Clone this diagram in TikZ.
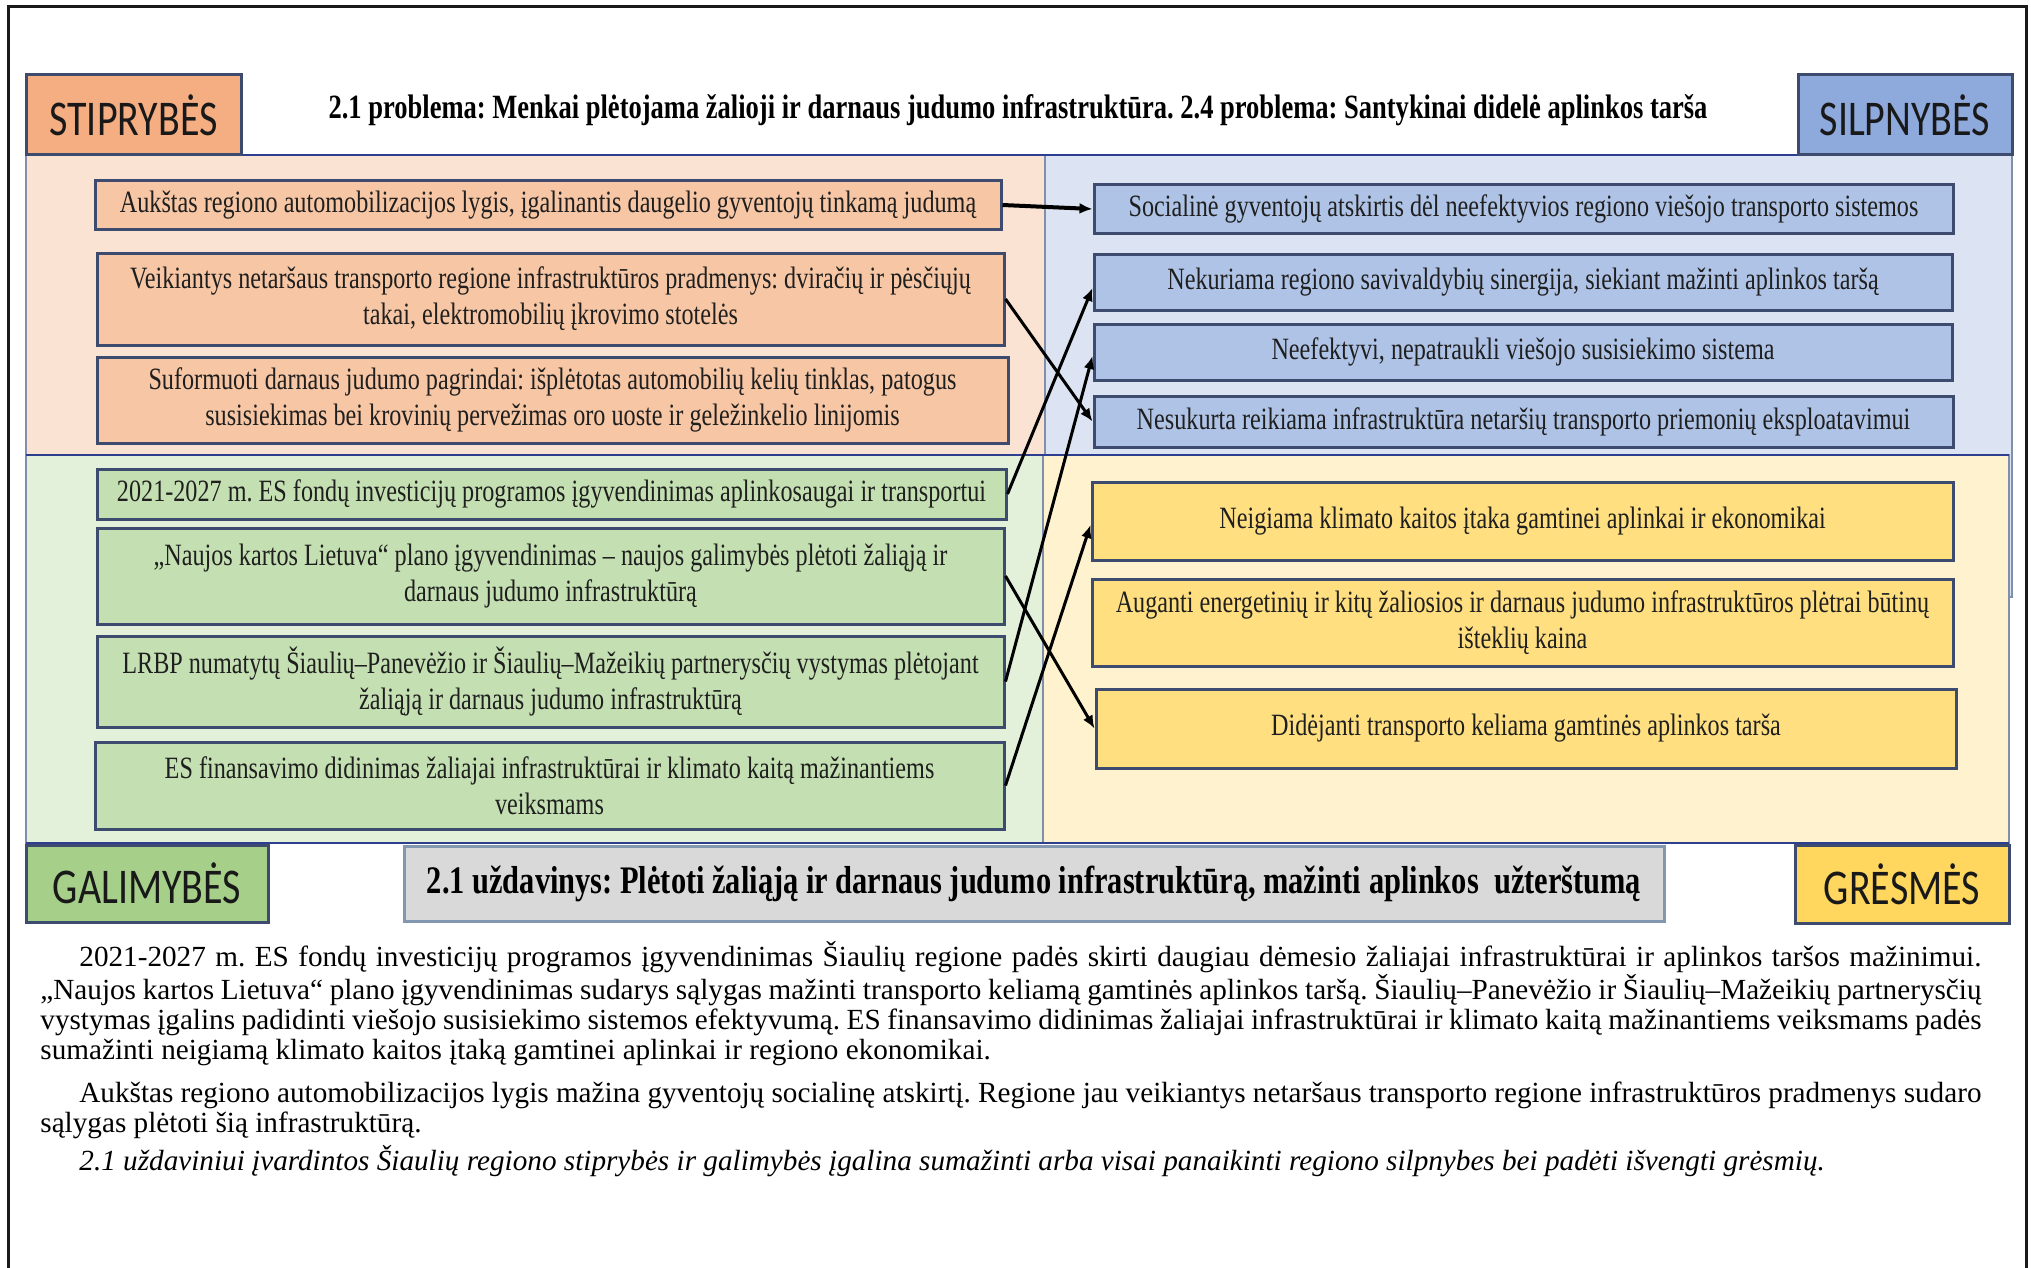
\documentclass[tikz,border=0pt]{standalone}
\usepackage{fontspec}
\setmainfont{Liberation Serif}
\newfontfamily\bodyfont{Liberation Serif}
\newfontfamily\boxfont[FakeStretch=0.78]{Liberation Serif}
\newfontfamily\titlefont[FakeStretch=0.78]{Liberation Serif}
\newfontfamily\hdrfont[FakeStretch=0.8]{Carlito}
\usetikzlibrary{arrows.meta,fit}
\definecolor{frameline}{HTML}{1A1A1A}
\definecolor{sepline}{HTML}{2E3F8F}
\definecolor{paneedge}{HTML}{8090AC}
\definecolor{boxedge}{HTML}{3D4B6E}
\definecolor{spane}{HTML}{FBE3D4}
\definecolor{sbox}{HTML}{F7C6A4}
\definecolor{shdr}{HTML}{F4AE82}
\definecolor{wpane}{HTML}{DCE4F3}
\definecolor{wbox}{HTML}{AFC3E6}
\definecolor{whdr}{HTML}{8EA9DB}
\definecolor{opane}{HTML}{E3F0DA}
\definecolor{obox}{HTML}{C4E0B2}
\definecolor{ohdr}{HTML}{A6CF8A}
\definecolor{tpane}{HTML}{FFF2CF}
\definecolor{tbox}{HTML}{FFDF80}
\definecolor{thdr}{HTML}{FFD75E}
\definecolor{taskfill}{HTML}{D9D9D9}
\definecolor{taskedge}{HTML}{8497B0}
\tikzset{
  cellbox/.style={draw=boxedge, line width=1.5pt, inner sep=0pt},
  celltext/.style={inner sep=0pt, align=center,
    font=\boxfont\fontsize{15.5}{18}\selectfont, text=black!88},
  hdrtext/.style={inner sep=0pt, font=\hdrfont\fontsize{25}{30}\selectfont, text=black!90},
  pane/.style={draw=paneedge, line width=1pt},
  sepline/.style={draw=sepline, line width=1.2pt},
  conn/.style={line width=1.5pt, -{Latex[length=6.5pt,width=5.5pt]}},
}
% #1 name, #2 fill, #3 corner a, #4 corner b, #5 text
\newcommand\swotcell[5]{%
  \node[cellbox, fill=#2, fit={#3 #4}] (#1) {};
  \node[celltext] (#1-t) at (#1.center) {#5};}
\newcommand\swothdr[5]{%
  \node[cellbox, fill=#2, fit={#3 #4}] (#1) {};
  \node[hdrtext] (#1-t) at (#1.center) {#5};}
% one justified line of the body text
\newcommand\jline[1]{\hbox to 970.5pt{#1}}
\begin{document}
\frenchspacing
\begin{tikzpicture}[x=0.5pt,y=-0.5pt]
\useasboundingbox (0,0) rectangle (2031,1268);
\fill[white] (0,0) rectangle (2031,1268);
% outer frame (open at bottom)
\draw[frameline, line width=1.5pt] (8,1268) -- (8,7) -- (2026,7) -- (2026,1268);

% panes
\filldraw[pane, fill=wpane] (1045,155) rectangle (2012,597);
\filldraw[pane, fill=spane] (26,155) rectangle (1045,455);
\filldraw[pane, fill=opane] (26,455) rectangle (1043,843);
\filldraw[pane, fill=tpane] (1043,455) rectangle (2009,843);
\draw[sepline] (26,155) -- (2012,155);
\draw[sepline] (26,455) -- (2009,455);
\draw[sepline] (26,843) -- (2009,843);

% headers
\swothdr{hs}{shdr}{(26,75)}{(241,155)}{STIPRYBĖS}
\swothdr{hw}{whdr}{(1798,75)}{(2012,155)}{SILPNYBĖS}
\swothdr{ho}{ohdr}{(26,845)}{(268,922)}{GALIMYBĖS}
\swothdr{ht}{thdr}{(1795,845)}{(2009,923)}{GRĖSMĖS}

\node[font=\titlefont\bfseries\fontsize{17}{20}\selectfont, inner sep=0pt] (title) at (1018,110)
  {2.1 problema: Menkai plėtojama žalioji ir darnaus judumo infrastruktūra. 2.4 problema: Santykinai didelė aplinkos tarša};
\node[draw=taskedge, line width=1.5pt, fill=taskfill, inner sep=0pt, fit={(404,846) (1664,921)}] (task) {};
\node[font=\titlefont\bfseries\fontsize{19.5}{23}\selectfont, inner sep=0pt] (task-t) at (task.center)
  {2.1 uždavinys: Plėtoti žaliąją ir darnaus judumo infrastruktūrą, mažinti aplinkos\ \ užterštumą};

% strengths
\swotcell{s1}{sbox}{(95,181)}{(1001,229)}
  {Aukštas regiono automobilizacijos lygis, įgalinantis daugelio gyventojų tinkamą judumą}
\swotcell{s2}{sbox}{(97,253)}{(1004,345)}
  {Veikiantys netaršaus transporto regione infrastruktūros pradmenys: dviračių ir pėsčiųjų\\takai, elektromobilių įkrovimo stotelės}
\swotcell{s3}{sbox}{(97,357)}{(1008,443)}
  {Suformuoti darnaus judumo pagrindai: išplėtotas automobilių kelių tinklas, patogus\\susisiekimas bei krovinių pervežimas oro uoste ir geležinkelio linijomis}

% weaknesses
\swotcell{w1}{wbox}{(1094,185)}{(1953,233)}
  {Socialinė gyventojų atskirtis dėl neefektyvios regiono viešojo transporto sistemos}
\swotcell{w2}{wbox}{(1094,254)}{(1952,310)}
  {Nekuriama regiono savivaldybių sinergija, siekiant mažinti aplinkos taršą}
\swotcell{w3}{wbox}{(1094,324)}{(1952,380)}
  {Neefektyvi, nepatraukli viešojo susisiekimo sistema}
\swotcell{w4}{wbox}{(1094,396)}{(1953,447)}
  {Nesukurta reikiama infrastruktūra netaršių transporto priemonių eksploatavimui}

% opportunities
\swotcell{o1}{obox}{(97,469)}{(1006,519)}
  {2021-2027 m. ES fondų investicijų programos įgyvendinimas aplinkosaugai ir transportui}
\swotcell{o2}{obox}{(97,528)}{(1004,624)}
  {„Naujos kartos Lietuva“ plano įgyvendinimas – naujos galimybės plėtoti žaliąją ir\\darnaus judumo infrastruktūrą}
\swotcell{o3}{obox}{(97,636)}{(1004,727)}
  {LRBP numatytų Šiaulių–Panevėžio ir Šiaulių–Mažeikių partnerysčių vystymas plėtojant\\žaliąją ir darnaus judumo infrastruktūrą}
\swotcell{o4}{obox}{(95,742)}{(1004,829)}
  {ES finansavimo didinimas žaliajai infrastruktūrai ir klimato kaitą mažinantiems\\veiksmams}

% threats
\swotcell{t1}{tbox}{(1092,482)}{(1953,560)}
  {Neigiama klimato kaitos įtaka gamtinei aplinkai ir ekonomikai}
\swotcell{t2}{tbox}{(1092,579)}{(1953,666)}
  {Auganti energetinių ir kitų žaliosios ir darnaus judumo infrastruktūros plėtrai būtinų\\išteklių kaina}
\swotcell{t3}{tbox}{(1096,689)}{(1956,768)}
  {Didėjanti transporto keliama gamtinės aplinkos tarša}

% connectors
\draw[conn, line width=2pt] (s1.east) -- (w1.west);
\draw[conn] (s2.east) -- (w4.west);
\draw[conn] (o1.east) -- ([yshift=-3pt]w2.west);
\draw[conn] (o3.east) -- ([yshift=-2pt]w3.west);
\draw[conn] (o2.east) -- (t3.west);
\draw[conn] (o4.east) -- ([yshift=-2pt]t1.west);

% body text
\node[anchor=north west, inner sep=0pt, align=left,
  font=\bodyfont\fontsize{14.6}{14.9}\selectfont] (body) at (40,941) {%
\jline{\hspace*{19.5pt}2021-2027 m. ES fondų investicijų programos įgyvendinimas Šiaulių regione padės skirti daugiau dėmesio žaliajai infrastruktūrai ir aplinkos taršos mažinimui.}\\
\jline{„Naujos kartos Lietuva“ plano įgyvendinimas sudarys sąlygas mažinti transporto keliamą gamtinės aplinkos taršą. Šiaulių–Panevėžio ir Šiaulių–Mažeikių partnerysčių}\\
\jline{vystymas įgalins padidinti viešojo susisiekimo sistemos efektyvumą. ES finansavimo didinimas žaliajai infrastruktūrai ir klimato kaitą mažinantiems veiksmams padės}\\
sumažinti neigiamą klimato kaitos įtaką gamtinei aplinkai ir regiono ekonomikai.\\[6.5pt]
\jline{\hspace*{19.5pt}Aukštas regiono automobilizacijos lygis mažina gyventojų socialinę atskirtį. Regione jau veikiantys netaršaus transporto regione infrastruktūros pradmenys sudaro}\\
sąlygas plėtoti šią infrastruktūrą.\\[2.5pt]
\hspace*{19.5pt}\textit{2.1 uždaviniui įvardintos Šiaulių regiono stiprybės ir galimybės įgalina sumažinti arba visai panaikinti regiono silpnybes bei padėti išvengti grėsmių.}};
\end{tikzpicture}
\end{document}
